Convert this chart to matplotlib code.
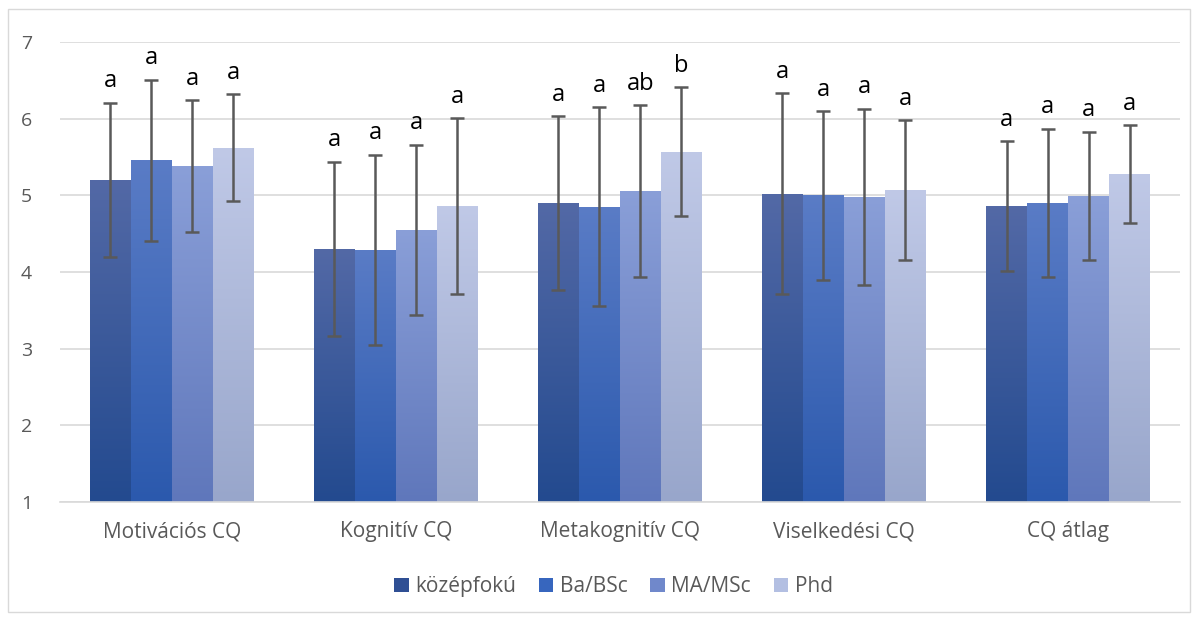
import numpy as np
import matplotlib.pyplot as plt
from matplotlib.colors import LinearSegmentedColormap
from matplotlib.patches import Rectangle, Patch

categories = ["Motivációs CQ", "Kognitív CQ", "Metakognitív CQ", "Viselkedési CQ", "CQ átlag"]
series = ["középfokú", "Ba/BSc", "MA/MSc", "Phd"]

kozepfoku = [5.20, 4.30, 4.90, 5.02, 4.86]
babsc = [5.46, 4.29, 4.85, 5.00, 4.90]
mamsc = [5.38, 4.55, 5.06, 4.98, 4.99]
phd = [5.62, 4.86, 5.57, 5.07, 5.28]

sd_kozepfoku = [1.01, 1.14, 1.13, 1.31, 0.85]
sd_babsc = [1.05, 1.24, 1.30, 1.10, 0.97]
sd_mamsc = [0.86, 1.11, 1.12, 1.15, 0.84]
sd_phd = [0.70, 1.15, 0.84, 0.91, 0.64]

letters_kozepfoku = ["a", "a", "a", "a", "a"]
letters_babsc = ["a", "a", "a", "a", "a"]
letters_mamsc = ["a", "a", "ab", "a", "a"]
letters_phd = ["a", "a", "b", "a", "a"]

values = [kozepfoku, babsc, mamsc, phd]
sds = [sd_kozepfoku, sd_babsc, sd_mamsc, sd_phd]
letters = [letters_kozepfoku, letters_babsc, letters_mamsc, letters_phd]

# gradient colours (top, bottom) and legend colour
grad = [("#5369a6", "#234a8f"), ("#5a7cc6", "#2b59ad"),
        ("#8a9fd8", "#5f77bb"), ("#c0c9e7", "#98a6cb")]
legend_colors = ["#2f4f94", "#3766be", "#7088cb", "#b3bfe2"]

fig = plt.figure(figsize=(11.98, 6.17), dpi=100)
fig.patches.append(Rectangle((0.007, 0.008), 0.986, 0.977, transform=fig.transFigure,
                             fill=False, edgecolor="#d9d9d9", linewidth=1))
ax = fig.add_axes([0.050, 0.1864, 0.935, 0.7456])

x = np.arange(len(categories))
w = 0.183
ax.set_ylim(1, 7)
ax.set_xlim(-0.5, len(categories) - 0.5)

for i in range(4):
    cmap = LinearSegmentedColormap.from_list("g%d" % i, [grad[i][1], grad[i][0]])
    pos = x + (i - 1.5) * w
    bars = ax.bar(pos, np.array(values[i]) - 1, w, bottom=1, color="none", zorder=2)
    for b in bars:
        bx, by = b.get_x(), b.get_y()
        bw, bh = b.get_width(), b.get_height()
        im = ax.imshow(np.linspace(0, 1, 256).reshape(-1, 1), cmap=cmap, origin="lower",
                       extent=[bx, bx + bw, by, by + bh], aspect="auto", zorder=2)
        im.set_clip_path(b)
    ax.errorbar(pos, values[i], yerr=sds[i], fmt="none", ecolor="#595959",
                elinewidth=1.8, capsize=5, capthick=1.8, zorder=3)
    for j in range(len(categories)):
        ax.text(pos[j], values[i][j] + sds[i][j] + 0.12, letters[i][j], ha="center",
                va="bottom", fontsize=17, color="black", family="Open Sans", zorder=4)

ax.set_aspect("auto")
ax.set_yticks(range(1, 8))
ax.yaxis.grid(True, color="#d9d9d9", linewidth=1.2)
ax.set_axisbelow(True)
ax.set_xticks(x)
ax.set_xticklabels(categories, fontsize=15, color="#595959", family="Open Sans")
for lab in ax.get_yticklabels():
    lab.set_fontsize(14)
    lab.set_color("#595959")
    lab.set_family("Open Sans")
ax.tick_params(axis="y", length=0, pad=20)
ax.tick_params(axis="x", length=0, pad=14)
for s in ["top", "right", "left"]:
    ax.spines[s].set_visible(False)
ax.spines["bottom"].set_color("#d9d9d9")
ax.spines["bottom"].set_linewidth(1.2)

handles = [Patch(facecolor=c, edgecolor="none") for c in legend_colors]
fig.legend(handles, series, loc="center", bbox_to_anchor=(0.512, 0.049), ncol=4,
           frameon=False, handlelength=0.7, handleheight=0.7, handletextpad=0.3,
           columnspacing=1.1, prop={"family": "Open Sans", "size": 15},
           labelcolor="#595959")

fig.savefig("out.png", dpi=100)
